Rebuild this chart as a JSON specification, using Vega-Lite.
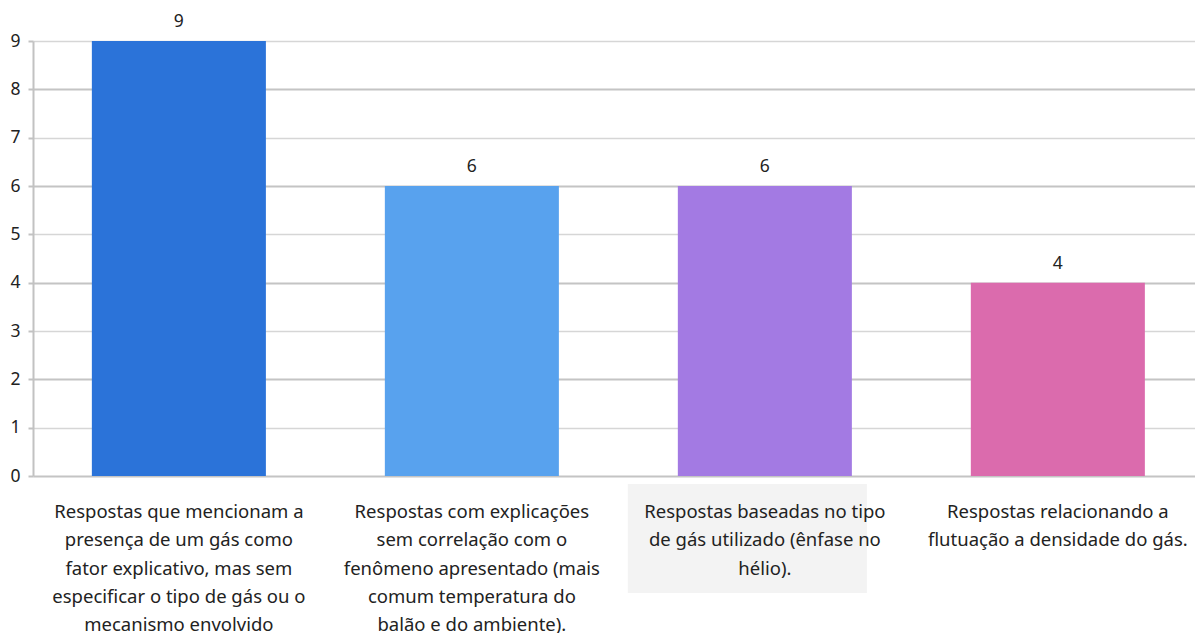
{
  "$schema": "https://vega.github.io/schema/vega-lite/v6.json",
  "autosize": {"type": "none"},
  "padding": {"left": 33, "top": 41, "right": 0, "bottom": 157},
  "width": 1162,
  "height": 435,
  "background": "white",
  "config": {
    "view": {"stroke": null},
    "font": "Noto Sans"
  },
  "datasets": {
    "respostas": [
      {"resposta": "Respostas que mencionam a\npresença de um gás como\nfator explicativo, mas sem\nespecificar o tipo de gás ou o\nmecanismo envolvido", "total": 9},
      {"resposta": "Respostas com explicações\nsem correlação com o\nfenômeno apresentado (mais\ncomum temperatura do\nbalão e do ambiente).", "total": 6},
      {"resposta": "Respostas baseadas no tipo\nde gás utilizado (ênfase no\nhélio).", "total": 6},
      {"resposta": "Respostas relacionando a\nflutuação a densidade do gás.", "total": 4}
    ],
    "destaque": [
      {"resposta": "Respostas baseadas no tipo\nde gás utilizado (ênfase no\nhélio)."}
    ]
  },
  "encoding": {
    "x": {
      "field": "resposta",
      "type": "nominal",
      "sort": null,
      "scale": {"paddingInner": 0.406, "paddingOuter": 0.186, "align": 0.54},
      "axis": {
        "title": null,
        "zindex": 1,
        "domain": false,
        "ticks": false,
        "labelAngle": 0,
        "labelExpr": "split(datum.label, '\\n')",
        "labelFont": "Noto Sans",
        "labelFontSize": 18.5,
        "labelColor": "#222222",
        "labelLineHeight": 28.3,
        "labelPadding": 41.5,
        "labelLimit": 0,
        "labelBaseline": "alphabetic"
      }
    }
  },
  "layer": [
    {
      "data": {"name": "respostas"},
      "mark": {"type": "bar"},
      "encoding": {
        "y": {
          "field": "total",
          "type": "quantitative",
          "scale": {"domain": [0, 9], "nice": false},
          "axis": {
            "title": null,
            "values": [0, 1, 2, 3, 4, 5, 6, 7, 8, 9],
            "grid": true,
            "domainColor": "#c2c2c2",
            "domainWidth": 2,
            "tickColor": "#c2c2c2",
            "tickWidth": 2,
            "tickSize": 5,
            "labelFont": "Noto Sans",
            "labelFontSize": 17.5,
            "labelColor": "#222222",
            "labelPadding": 8,
            "gridColor": {"condition": {"test": "datum.value % 2 === 0", "value": "#c4c4c4"}, "value": "#d6d6d6"},
            "gridWidth": {"condition": {"test": "datum.value % 2 === 0", "value": 2}, "value": 1.5}
          }
        },
        "color": {
          "field": "resposta",
          "type": "nominal",
          "sort": null,
          "legend": null,
          "scale": {"range": ["#2b73d9", "#58a2ee", "#a37ae3", "#db6bad"]}
        }
      }
    },
    {
      "data": {"name": "respostas"},
      "mark": {"type": "text", "baseline": "middle", "dy": -19, "fontSize": 17.5, "color": "#222222", "font": "Noto Sans"},
      "encoding": {
        "y": {"field": "total", "type": "quantitative"},
        "text": {"field": "total", "type": "quantitative"}
      }
    },
    {
      "data": {"name": "destaque"},
      "mark": {"type": "bar", "color": "#f3f3f3", "width": {"band": 1.374}, "xOffset": -17.5},
      "encoding": {
        "y": {"datum": -0.166, "type": "quantitative"},
        "y2": {"datum": -2.42}
      }
    }
  ]
}
